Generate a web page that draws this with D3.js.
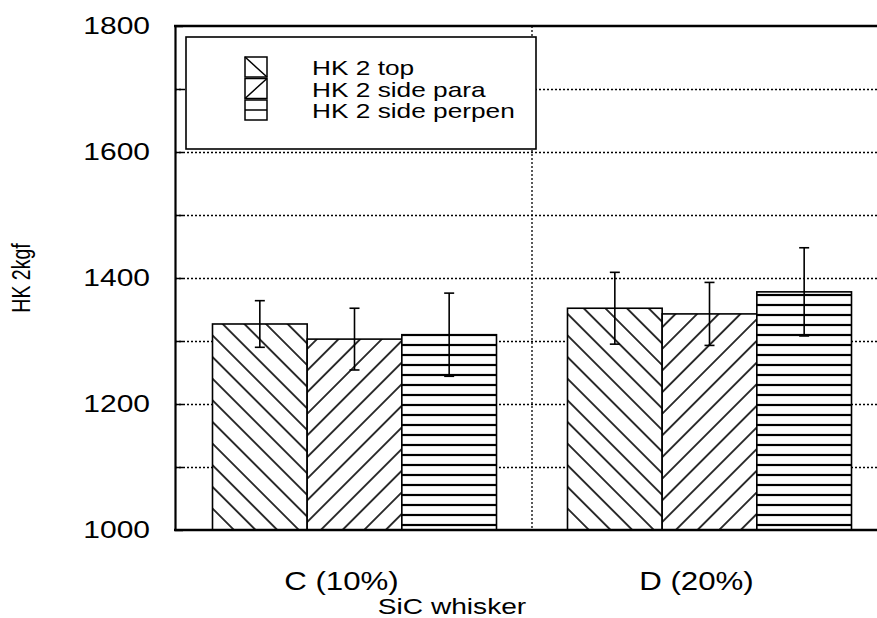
<!DOCTYPE html>
<html lang="en">
<head>
    <meta charset="UTF-8">
    <title>HK 2kgf - SiC whisker</title>
    <script src="https://d3js.org/d3.v7.min.js"></script>
    <style>
        body { margin: 0; background: white; }
        svg text { font-family: "Liberation Sans", Arial, Helvetica, sans-serif; fill: black; }
    </style>
</head>
<body>
    <div id="chart"></div>

    <script>
        // data
        var categories = ["C (10%)", "D (20%)"];
        var seriesNames = ["HK 2 top", "HK 2 side para", "HK 2 side perpen"];
        var hkTop = [1327, 1352];
        var hkPara = [1303, 1343];
        var hkPerpen = [1310, 1378];
        var errTop = [37, 57];
        var errPara = [49, 50];
        var errPerpen = [66, 70];
        var yTicks = [1000, 1200, 1400, 1600, 1800];

        var width = 877, height = 618;
        var plotLeft = 175, plotTop = 26, plotBottom = 530, plotRight = 886;
        var stretch = 1.25; // the scan is wider than tall

        var svg = d3.select("#chart")
            .append("svg")
            .attr("width", width)
            .attr("height", height);

        var defs = svg.append("defs");
        function hatch(id, angle, gap, w) {
            var p = defs.append("pattern")
                .attr("id", id)
                .attr("patternUnits", "userSpaceOnUse")
                .attr("width", 20)
                .attr("height", gap)
                .attr("patternTransform", "rotate(" + angle + ")");
            p.append("rect").attr("width", 20).attr("height", gap).attr("fill", "white");
            p.append("line")
                .attr("x1", 0).attr("x2", 20)
                .attr("y1", gap / 2).attr("y2", gap / 2)
                .attr("stroke", "black").attr("stroke-width", w);
        }
        hatch("pTop", 45, 15.3, 1.6);
        hatch("pPara", -45, 15.3, 1.6);
        hatch("pPerp", 0, 10, 2.2);
        var fills = ["url(#pTop)", "url(#pPara)", "url(#pPerp)"];

        var rows = categories.map(function(c, i) {
            return {
                cat: c,
                vals: [
                    {s: 0, v: hkTop[i], e: errTop[i]},
                    {s: 1, v: hkPara[i], e: errPara[i]},
                    {s: 2, v: hkPerpen[i], e: errPerpen[i]}
                ]
            };
        });

        var x0 = d3.scaleBand()
            .domain(categories)
            .range([plotLeft + 2, plotRight + 1])
            .paddingInner(0.2)
            .paddingOuter(0.1);
        var x1 = d3.scaleBand()
            .domain([0, 1, 2])
            .range([0, x0.bandwidth()]);
        var y = d3.scaleLinear()
            .domain([1000, 1800])
            .range([plotBottom, plotTop]);

        // dotted grid
        svg.append("g")
            .attr("transform", "translate(" + plotLeft + ",0)")
            .call(d3.axisLeft(y).tickValues(d3.range(1100, 1800, 100)).tickSize(-(plotRight - plotLeft)).tickFormat(""))
            .call(function(g) {
                g.select(".domain").remove();
                g.selectAll("line").attr("stroke", "black").attr("stroke-width", 1.3).attr("stroke-dasharray", "2,2");
            });
        var midX = (x0(categories[0]) + x0.bandwidth() + x0(categories[1])) / 2;
        svg.append("line")
            .attr("x1", midX).attr("x2", midX)
            .attr("y1", plotTop).attr("y2", plotBottom)
            .attr("stroke", "black").attr("stroke-width", 1.3).attr("stroke-dasharray", "2,2");

        // bars
        var groups = svg.append("g")
            .selectAll("g")
            .data(rows)
            .enter()
            .append("g")
            .attr("transform", function(d) { return "translate(" + x0(d.cat) + ",0)"; });

        groups.selectAll("rect")
            .data(function(d) { return d.vals; })
            .enter()
            .append("rect")
            .attr("x", function(d) { return x1(d.s); })
            .attr("y", function(d) { return y(d.v); })
            .attr("width", x1.bandwidth())
            .attr("height", function(d) { return y(1000) - y(d.v); })
            .attr("fill", function(d) { return fills[d.s]; })
            .attr("stroke", "black")
            .attr("stroke-width", 1.6);

        // error bars
        var eb = groups.selectAll("g.err")
            .data(function(d) { return d.vals; })
            .enter()
            .append("g")
            .attr("class", "err")
            .attr("stroke", "black")
            .attr("stroke-width", 1.6);
        eb.append("line")
            .attr("x1", function(d) { return x1(d.s) + x1.bandwidth() / 2; })
            .attr("x2", function(d) { return x1(d.s) + x1.bandwidth() / 2; })
            .attr("y1", function(d) { return y(d.v + d.e); })
            .attr("y2", function(d) { return y(d.v - d.e); });
        [1, -1].forEach(function(sign) {
            eb.append("line")
                .attr("x1", function(d) { return x1(d.s) + x1.bandwidth() / 2 - 5; })
                .attr("x2", function(d) { return x1(d.s) + x1.bandwidth() / 2 + 5; })
                .attr("y1", function(d) { return y(d.v + sign * d.e); })
                .attr("y2", function(d) { return y(d.v + sign * d.e); });
        });

        // frame + inner ticks
        svg.append("g")
            .attr("transform", "translate(" + plotLeft + ",0)")
            .call(d3.axisLeft(y).tickValues(d3.range(1000, 1900, 100)).tickSize(-8).tickSizeOuter(0).tickFormat(""))
            .call(function(g) {
                g.select(".domain").attr("stroke-width", 2.2);
                g.selectAll("line").attr("stroke-width", 1.5);
            });
        svg.append("line")
            .attr("x1", plotLeft - 1).attr("x2", width)
            .attr("y1", plotTop).attr("y2", plotTop)
            .attr("stroke", "black").attr("stroke-width", 2.4);
        svg.append("line")
            .attr("x1", plotLeft - 1).attr("x2", width)
            .attr("y1", plotBottom).attr("y2", plotBottom)
            .attr("stroke", "black").attr("stroke-width", 2.4);

        // y tick labels
        svg.append("g")
            .attr("transform", "translate(" + plotLeft + ",0)")
            .call(d3.axisLeft(y).tickValues(yTicks).tickSize(0).tickPadding(20).tickFormat(d3.format("d")))
            .call(function(g) {
                g.select(".domain").remove();
                g.selectAll("text")
                    .attr("font-size", 24)
                    .attr("font-family", "Liberation Sans, Arial, sans-serif")
                    .attr("fill", "black")
                    .attr("transform", "scale(" + stretch + ",1)");
            });

        // x labels
        svg.append("g")
            .selectAll("text")
            .data(categories)
            .enter()
            .append("text")
            .attr("transform", function(d) {
                return "translate(" + (x0(d) + x0.bandwidth() / 2 - 13) + ",590) scale(" + stretch + ",1)";
            })
            .attr("text-anchor", "middle")
            .attr("font-size", 25)
            .text(function(d) { return d; });

        svg.append("text")
            .attr("transform", "translate(452,614) scale(" + stretch + ",1)")
            .attr("text-anchor", "middle")
            .attr("font-size", 22.5)
            .text("SiC whisker");

        svg.append("text")
            .attr("transform", "translate(30,278) rotate(-90) scale(1,1.35)")
            .attr("text-anchor", "middle")
            .attr("font-size", 19.5)
            .text("HK 2kgf");

        // legend
        var legend = svg.append("g");
        legend.append("rect")
            .attr("x", 186).attr("y", 37)
            .attr("width", 350).attr("height", 112)
            .attr("fill", "white")
            .attr("stroke", "black")
            .attr("stroke-width", 1.6);

        var item = legend.selectAll("g.item")
            .data(seriesNames)
            .enter()
            .append("g")
            .attr("class", "item")
            .attr("transform", function(d, i) { return "translate(245," + (57 + i * 21.5) + ")"; });
        item.append("rect")
            .attr("width", 22).attr("height", 20)
            .attr("fill", "white")
            .attr("stroke", "black")
            .attr("stroke-width", 1.5);
        item.append("line")
            .attr("x1", 0)
            .attr("x2", 22)
            .attr("y1", function(d, i) { return i === 0 ? 0 : (i === 1 ? 20 : 10); })
            .attr("y2", function(d, i) { return i === 0 ? 20 : (i === 1 ? 0 : 10); })
            .attr("stroke", "black")
            .attr("stroke-width", 1.5);
        item.append("text")
            .attr("transform", "translate(67,18) scale(" + stretch + ",1)")
            .attr("font-size", 21)
            .text(function(d) { return d; });
    </script>
</body>
</html>
